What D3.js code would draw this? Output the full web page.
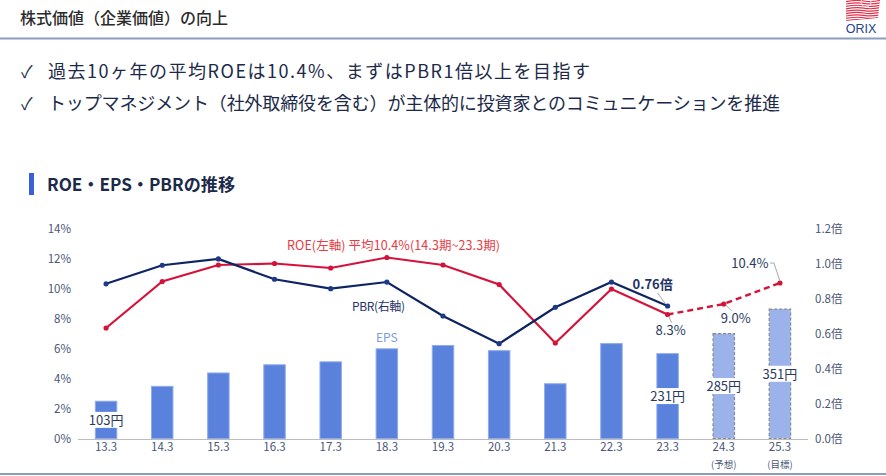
<!DOCTYPE html>
<html><head><meta charset="utf-8">
<script src="https://cdn.jsdelivr.net/npm/d3@7"></script>
<style>
html,body{margin:0;padding:0;background:#fff;}
svg{display:block;font-family:"Noto Sans CJK JP","Noto Sans",sans-serif;}
</style></head>
<body>
<svg id="chart" width="886" height="476"></svg>
<script>
const categories = ["13.3","14.3","15.3","16.3","17.3","18.3","19.3","20.3","21.3","22.3","23.3","24.3","25.3"];
const subLabels = ["","","","","","","","","","","","(予想)","(目標)"];
const eps = [103,143,179,201,209,244,253,239,150,258,231,285,351];
const epsForecast = [false,false,false,false,false,false,false,false,false,false,false,true,true];
const roe = [7.4,10.5,11.6,11.7,11.4,12.1,11.6,10.3,6.4,10.0,8.3,9.0,10.4];
const pbr = [0.887,0.993,1.029,0.913,0.859,0.897,0.703,0.545,0.753,0.897,0.76];
const roeTicks = [0,2,4,6,8,10,12,14];
const pbrTicks = [0,0.2,0.4,0.6,0.8,1.0,1.2];
const epsLabelled = {0:"103円",10:"231円",11:"285円",12:"351円"};

const svg = d3.select("#chart");

// ---- header ----
svg.append("text").attr("x",20).attr("y",24).attr("font-size",16).attr("font-weight",500)
  .attr("fill","#2b2b2b").text("株式価値（企業価値）の向上");
svg.append("line").attr("x1",0).attr("x2",886).attr("y1",38.5).attr("y2",38.5)
  .attr("stroke","#8c9dbb").attr("stroke-width",2);
// logo
const logo = svg.append("g");
const clipId="logoclip";
logo.append("clipPath").attr("id",clipId).append("path").attr("d","M846,0 L880,0 L878,18 L846,21 Z");
const lg = logo.append("g").attr("clip-path",`url(#${clipId})`);
for(let i=0;i<9;i++){
  const y=1+i*2.4;
  lg.append("path").attr("d",`M844,${y+1} Q856,${y-1.5} 864,${y} T882,${y-1}`)
    .attr("fill","none").attr("stroke","#e0304a").attr("stroke-width",1.2);
}
lg.append("circle").attr("cx",866).attr("cy",2).attr("r",5).attr("fill","none").attr("stroke","#fff").attr("stroke-width",0.8);
logo.append("text").attr("x",861).attr("y",32.5).attr("text-anchor","middle").attr("font-size",12.5)
  .attr("font-family","'Liberation Sans','DejaVu Sans',sans-serif")
  .attr("fill","#24438a").text("ORIX");

// bullets
const bullets = ["過去10ヶ年の平均ROEは10.4%、まずはPBR1倍以上を目指す","トップマネジメント（社外取締役を含む）が主体的に投資家とのコミュニケーションを推進"];
const bulletWidths = [542,732];
bullets.forEach((b,i)=>{
  const y = 78 + i*32;
  svg.append("text").attr("x",21).attr("y",y).attr("font-size",17).attr("fill","#1c2a4a").text("✓");
  svg.append("text").attr("x",48).attr("y",y).attr("font-size",18).attr("fill","#1c2a4a")
    .attr("textLength",bulletWidths[i]).attr("lengthAdjust","spacing").text(b);
});

// section title
svg.append("rect").attr("x",29).attr("y",173).attr("width",5).attr("height",22).attr("fill","#3a5fd8");
svg.append("text").attr("x",47).attr("y",191).attr("font-size",17.5).attr("font-weight",700)
  .attr("fill","#1c2a4a").attr("textLength",188).attr("lengthAdjust","spacingAndGlyphs")
  .text("ROE・EPS・PBRの推移");

// ---- scales ----
const x = d3.scaleBand().domain(categories).range([78,808]).paddingInner(0.6).paddingOuter(0.3);
const cx = c => x(c) + x.bandwidth()/2;
const yL = d3.scaleLinear().domain([0,14]).range([439,229]);
const yR = d3.scaleLinear().domain([0,1.2]).range([439,229]);
const yE = d3.scaleLinear().domain([0,565]).range([439,229]);

// axes
const axL = svg.append("g").attr("transform","translate(71,0)")
  .call(d3.axisLeft(yL).tickValues(roeTicks).tickSize(0).tickPadding(0).tickFormat(d=>d+"%"));
axL.select(".domain").remove();
axL.selectAll("text").attr("font-size",11.5).attr("fill","#4a5677").attr("font-family","'Noto Sans CJK JP',sans-serif");

const axR = svg.append("g").attr("transform","translate(815,0)")
  .call(d3.axisRight(yR).tickValues(pbrTicks).tickSize(0).tickPadding(0).tickFormat(d=>d3.format(".1f")(d)+"倍"));
axR.select(".domain").remove();
axR.selectAll("text").attr("font-size",11.5).attr("fill","#4a5677").attr("font-family","'Noto Sans CJK JP',sans-serif");

// bars
const bars = svg.append("g");
categories.forEach((c,i)=>{
  const f = epsForecast[i];
  bars.append("rect").attr("x",x(c)+0.5).attr("y",yE(eps[i])+0.5)
    .attr("width",x.bandwidth()-1).attr("height",yE(0)-yE(eps[i])-1)
    .attr("fill", f ? "#9bb3ea" : "#5a82dc")
    .attr("stroke", f ? "#8a8a8a" : "#8eaaf0")
    .attr("stroke-width", f ? 1.2 : 1)
    .attr("stroke-dasharray", f ? "3,2" : null);
});

// baseline
svg.append("line").attr("x1",78).attr("x2",808).attr("y1",439.5).attr("y2",439.5)
  .attr("stroke","#bdbdbd").attr("stroke-width",1.2);

// x labels
const xl = svg.append("g").attr("transform","translate(0,439)")
  .call(d3.axisBottom(x).tickSize(0).tickPadding(4));
xl.select(".domain").remove();
xl.selectAll("text").attr("font-size",11.5).attr("fill","#4a5677").attr("font-family","'Noto Sans CJK JP',sans-serif");
categories.forEach((c,i)=>{
  if(subLabels[i]) svg.append("text").attr("x",cx(c)).attr("y",467.5).attr("text-anchor","middle")
    .attr("font-size",9.5).attr("fill","#4a5677").text(subLabels[i]);
});

// EPS labels
Object.keys(epsLabelled).forEach(k=>{
  const i=+k, c=categories[i];
  const ym = (yE(eps[i])+yE(0))/2;
  svg.append("rect").attr("x",cx(c)-19).attr("y",ym-8).attr("width",38).attr("height",16).attr("fill","#fff");
  svg.append("text").attr("x",cx(c)).attr("y",ym+5).attr("text-anchor","middle")
    .attr("font-size",13).attr("fill","#2c3a5e").text(epsLabelled[k]);
});
svg.append("text").attr("x",cx("18.3")).attr("y",342).attr("text-anchor","middle")
  .attr("font-size",12).attr("fill","#7b9be4").text("EPS");

// lines
const roeColor="#d4123a", pbrColor="#0e2463";
const line = d3.line();
const roePts = categories.map((c,i)=>[cx(c), yL(roe[i])]);
svg.append("path").attr("d",line(roePts.slice(0,11))).attr("fill","none")
  .attr("stroke",roeColor).attr("stroke-width",2.2);
svg.append("path").attr("d",line(roePts.slice(10))).attr("fill","none")
  .attr("stroke",roeColor).attr("stroke-width",2.4).attr("stroke-dasharray","6,4");
const pbrPts = pbr.map((v,i)=>[cx(categories[i]), yR(v)]);
svg.append("path").attr("d",line(pbrPts)).attr("fill","none")
  .attr("stroke",pbrColor).attr("stroke-width",2.2);
svg.append("g").selectAll("circle").data(roePts).join("circle")
  .attr("cx",d=>d[0]).attr("cy",d=>d[1]).attr("r",2.6).attr("fill",roeColor);
svg.append("g").selectAll("circle").data(pbrPts).join("circle")
  .attr("cx",d=>d[0]).attr("cy",d=>d[1]).attr("r",2.6).attr("fill","#1d3a8a");

// annotations
svg.append("text").attr("x",287).attr("y",250).attr("font-size",12.5).attr("fill","#e83a44")
  .attr("textLength",213).attr("lengthAdjust","spacing")
  .text("ROE(左軸) 平均10.4%(14.3期~23.3期)");
svg.append("text").attr("x",352).attr("y",311).attr("font-size",12).attr("fill","#1f3468")
  .attr("textLength",53).attr("lengthAdjust","spacing")
  .text("PBR(右軸)");

const lead = (pts)=>svg.append("path").attr("d",d3.line()(pts)).attr("fill","none")
  .attr("stroke","#a8a8a8").attr("stroke-width",1);
const p23 = pbrPts[10], r23 = roePts[10], r24 = roePts[11], r25 = roePts[12];
lead([[p23[0]-10,p23[1]-13],[p23[0]-2,p23[1]-2]]);
svg.append("text").attr("x",p23[0]-15).attr("y",p23[1]-17).attr("text-anchor","middle")
  .attr("font-size",13).attr("font-weight",700).attr("fill","#1f3468").text("0.76倍");
lead([[r23[0]+1,r23[1]+2],[r23[0]+4,r23[1]+8]]);
svg.append("text").attr("x",r23[0]+3).attr("y",r23[1]+20).attr("text-anchor","middle")
  .attr("font-size",13).attr("fill","#2c3a5e").text("8.3%");
lead([[r24[0]+2,r24[1]+1],[r24[0]+8,r24[1]+7]]);
svg.append("text").attr("x",r24[0]+12).attr("y",r24[1]+19).attr("text-anchor","middle")
  .attr("font-size",13).attr("fill","#2c3a5e").text("9.0%");
lead([[r25[0]-10,r25[1]-20],[r25[0]-6,r25[1]-20],[r25[0],r25[1]-2]]);
svg.append("text").attr("x",r25[0]-30).attr("y",r25[1]-15).attr("text-anchor","middle")
  .attr("font-size",13).attr("fill","#2c3a5e").text("10.4%");

// bottom rule
svg.append("line").attr("x1",0).attr("x2",886).attr("y1",474).attr("y2",474)
  .attr("stroke","#8c9dbb").attr("stroke-width",2);
</script>
</body></html>
